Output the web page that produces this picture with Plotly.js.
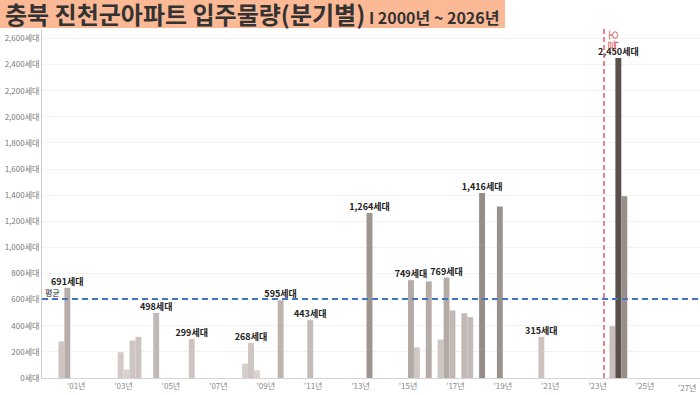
<!DOCTYPE html>
<html>
<head>
<meta charset="utf-8">
<script src="https://cdn.plot.ly/plotly-3.0.1.min.js"></script>
<style>
  html, body { margin: 0; padding: 0; background: #ffffff; }
  #chart { width: 700px; height: 395px; }
</style>
</head>
<body>
<div id="chart"></div>
<script>
// ---- data ----
const quarters = ['2000Q2','2000Q3','2002Q4','2003Q1','2003Q2','2003Q3','2004Q2','2005Q4',
                  '2008Q1','2008Q2','2008Q3','2009Q3','2010Q4','2013Q2','2015Q1','2015Q2',
                  '2015Q4','2016Q2','2016Q3','2016Q4','2017Q2','2017Q3','2018Q1','2018Q4',
                  '2020Q3','2023Q3','2023Q4','2024Q1'];
const units = [280, 691, 197, 64, 287, 315, 498, 299,
               110, 268, 59, 595, 443, 1264, 749, 235,
               740, 294, 769, 517, 496, 466, 1416, 1314,
               315, 397, 2450, 1391];
const labeledQuarters = ['2000Q3','2004Q2','2005Q4','2008Q2','2009Q3','2010Q4','2013Q2',
                         '2015Q1','2016Q3','2018Q1','2020Q3','2023Q4'];
const averageUnits = 605;
const todayPos = 2023.27;
const yTickVals = [0,200,400,600,800,1000,1200,1400,1600,1800,2000,2200,2400,2600];
const xTickYears = [2001,2003,2005,2007,2009,2011,2013,2015,2017,2019,2021,2023,2025,2027];
const xTickLabels = ["'01년","'03년","'05년","'07년","'09년","'11년","'13년","'15년","'17년","'19년","'21년","'23년","'25년","'27년"];

// ---- helpers ----
const FONT = '"Noto Sans CJK KR", "Noto Sans", sans-serif';
function qToX(q) {
  const y = parseInt(q.slice(0, 4), 10);
  const n = parseInt(q.slice(5), 10);
  return y + (n - 0.5) / 4;
}
const fmt = v => v.toLocaleString('en-US') + '세대';
const xs = quarters.map(qToX);
const labels = quarters.map((q, i) => labeledQuarters.includes(q) ? fmt(units[i]) : '');

// plot-area geometry (pixels) for placing decorations outside the plot
const L = 42, R = 700, T = 30, B = 378, H = 395;
const px2paperX = p => (p - L) / (R - L);
const px2paperY = p => (B - p) / (B - T);

const trace = {
  type: 'bar',
  x: xs,
  y: units,
  width: 0.25,
  marker: {
    color: units,
    cmin: 0, cmax: 2450,
    colorscale: [[0, '#ddd5d2'], [0.3, '#b5aca8'], [0.55, '#9a918d'], [1, '#5b4f4c']],
    line: { width: 0 }
  },
  text: labels,
  textposition: 'outside',
  constraintext: 'none',
  cliponaxis: false,
  textfont: { family: FONT, size: 9, color: '#222222', weight: 'bold' },
  hoverinfo: 'skip'
};

// the last year label sits against the right edge, so it is right-aligned there
const nAxisTicks = xTickYears.length - 1;
const tickFont = { family: FONT, size: 8, color: '#888888' };

const layout = {
  width: 700, height: 395,
  margin: { l: L, r: 700 - R, t: T, b: H - B, pad: 0 },
  paper_bgcolor: '#ffffff',
  plot_bgcolor: '#ffffff',
  showlegend: false,
  font: { family: FONT },
  title: {
    text: '<b>충북 진천군아파트 입주물량(분기별)</b><span style="font-size:16px"><b> I 2000년 ~ 2026년</b></span>',
    x: 5 / 700, xanchor: 'left', xref: 'container',
    y: 1 - 16 / 395, yanchor: 'middle', yref: 'container',
    font: { family: FONT, size: 24, color: '#333333' }
  },
  xaxis: {
    range: [1999.557, 2027.32],
    tickvals: xTickYears.slice(0, nAxisTicks),
    ticktext: xTickLabels.slice(0, nAxisTicks),
    showgrid: false,
    zeroline: false,
    showline: true,
    linecolor: '#d4d4d4',
    linewidth: 1,
    ticks: '',
    tickfont: tickFont,
    fixedrange: true
  },
  yaxis: {
    range: [0, 2665],
    tickvals: yTickVals,
    ticktext: yTickVals.map(fmt),
    showgrid: true,
    gridcolor: '#f1f1f1',
    zeroline: false,
    showline: true,
    linecolor: '#cccccc',
    linewidth: 1,
    ticks: '',
    tickfont: { family: FONT, size: 8, color: '#777777' },
    fixedrange: true
  },
  shapes: [
    { type: 'rect', xref: 'paper', yref: 'paper', layer: 'below',
      x0: px2paperX(0), x1: px2paperX(505), y0: px2paperY(28), y1: px2paperY(0),
      fillcolor: '#fbb995', line: { width: 0 } },
    { type: 'line', xref: 'paper', yref: 'y', x0: 0, x1: 1, y0: averageUnits, y1: averageUnits,
      line: { color: '#4472c4', width: 2, dash: '6px,4px' } },
    { type: 'line', xref: 'x', yref: 'paper', x0: todayPos, x1: todayPos, y0: 0, y1: px2paperY(27),
      line: { color: '#d9626b', width: 1.5, dash: '5px,3px' } }
  ],
  annotations: [
    { xref: 'paper', yref: 'y', x: 0.002, y: averageUnits, xanchor: 'left', yanchor: 'bottom',
      yshift: -1, text: '평균', showarrow: false,
      font: { family: FONT, size: 8, color: '#222222' } },
    { xref: 'x', yref: 'paper', x: todayPos, y: px2paperY(28), xanchor: 'left', yanchor: 'top',
      xshift: 0, text: '오늘', textangle: 90, showarrow: false,
      font: { family: FONT, size: 11, color: '#d9534f' } },
    { xref: 'paper', yref: 'paper', x: px2paperX(698), y: 0, xanchor: 'right', yanchor: 'top',
      yshift: -2, text: xTickLabels[nAxisTicks], showarrow: false, font: tickFont }
  ]
};

Plotly.newPlot('chart', [trace], layout, { displayModeBar: false, staticPlot: true });
</script>
</body>
</html>
